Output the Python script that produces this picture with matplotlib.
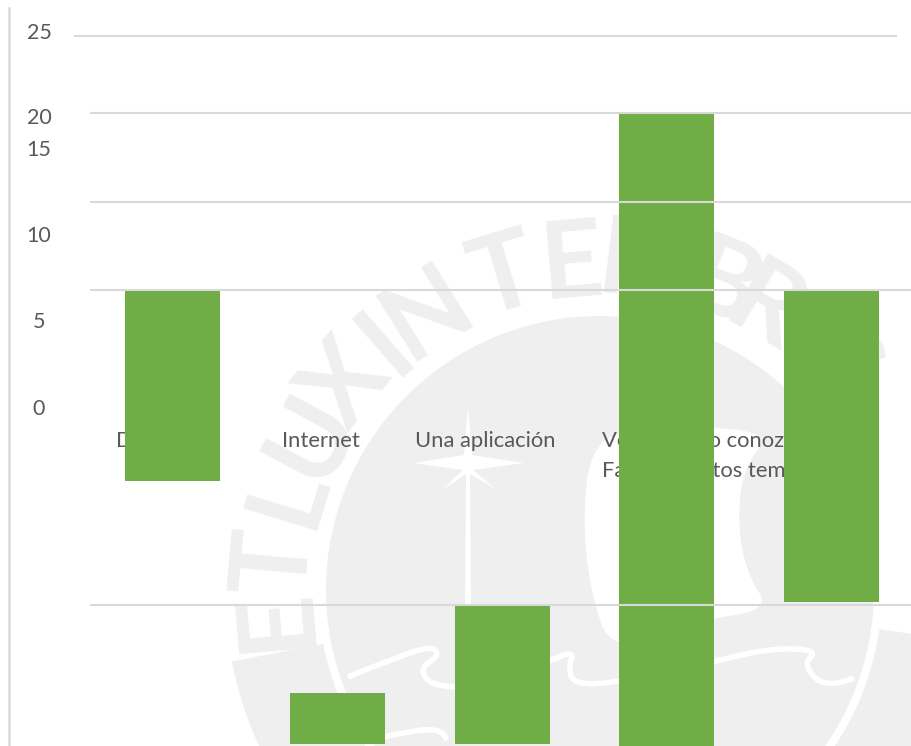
import numpy as np
import matplotlib
matplotlib.use('Agg')
import matplotlib.pyplot as plt
from matplotlib.patches import Circle, Wedge, Polygon

plt.rcParams['font.family'] = ['Lato', 'DejaVu Sans']

# chart values (the rendering is broken so bars float)
bar_tops = [10.0, -12.9, -7.9, 20.05, 10.05]
bar_bottoms = [-0.85, -15.8, -15.8, -15.9, -7.7]
grid_values = [20.05, 15, 10, -7.9]
top_grid_value = 24.45
y_labels = ['25', '20', '15', '10', '5', '0']
y_label_px = [33, 118, 150, 236, 322, 409]
cat_labels = ['Doctores', 'Internet', 'Una aplicación']
cat_label_px = [161, 321, 485]
long_label = 'Veas que no conozco\nFallas en estos temas'

# watermark letters: angle from the top of the seal
seal_letters = list('ETLUXINTENEBRIS')
seal_angles = [-95, -85, -73, -62, -51, -41, -32, -17, -5, 7, 14, 22, 30.5, 39, 47]

W, H = 912, 746
GREEN = '#70ad47'
GRID = '#d9d9d9'
TEXT = '#595959'
MARK = '#efefef'


def smooth(pts, n=3, closed=False):
    # corner cutting, only for the decorative seal outlines
    p = np.array(pts, dtype=float)
    for _ in range(n):
        q = np.roll(p, -1, axis=0) if closed else p[1:]
        a = p if closed else p[:-1]
        p = np.empty((len(a) * 2, 2))
        p[0::2] = 0.75 * a + 0.25 * q
        p[1::2] = 0.25 * a + 0.75 * q
    return p


fig = plt.figure(figsize=(W / 100, H / 100), dpi=100)

#%%
# background in pixel coords: seal watermark and the labels that sit behind the bars
bg = fig.add_axes([0, 0, 1, 1], zorder=0)
bg.set_xlim(0, W)
bg.set_ylim(H, 0)
bg.axis('off')

cx, cy = 600, 590
bg.add_patch(Circle((cx, cy), 274, color=MARK, lw=0))
# matplotlib wedge angles on an inverted y axis run clockwise from +x
bg.add_patch(Wedge((cx, cy), 375, 8, 169, width=93, color=MARK, lw=0))

for ch, ang in zip(seal_letters, seal_angles):
    a = np.radians(ang)
    bg.text(cx + 326 * np.sin(a), cy - 326 * np.cos(a), ch, fontsize=78, fontweight='bold',
            color=MARK, rotation=-ang, rotation_mode='anchor', ha='center', va='center')

# star
bg.add_patch(Polygon([(468, 407), (472, 455), (524, 463), (473, 470), (497, 490), (470, 474),
                      (471, 605), (465, 605), (466, 474), (442, 490), (463, 470), (413, 463),
                      (464, 455)], color='white', lw=0))

# book shape behind the fourth bar
bg.add_patch(Polygon(smooth([(583, 520), (590, 450), (625, 428), (775, 428), (742, 470), (738, 530),
                             (748, 575), (770, 610), (700, 620), (612, 655), (590, 590)],
                            closed=True), color='white', lw=0))

# ribbon curves
rib1 = smooth([(335, 682), (370, 668), (430, 645), (440, 655), (420, 668), (430, 685), (470, 688),
               (540, 665), (575, 650), (568, 668), (575, 685), (620, 682), (700, 665), (770, 648),
               (818, 650), (803, 665), (825, 688), (872, 672)])
rib2 = smooth([(345, 746), (390, 735), (440, 727), (450, 746)])
for rib in (rib1, rib2):
    bg.plot(rib[:, 0], rib[:, 1], color='white', lw=4)

for lab, px in zip(y_labels, y_label_px):
    bg.text(39, px, lab, fontsize=15.5, color=TEXT, ha='center', va='center')
for lab, px in zip(cat_labels, cat_label_px):
    bg.text(px, 441, lab, fontsize=15.8, color=TEXT, ha='center', va='center')
bg.text(602, 456, long_label, fontsize=15.8, color=TEXT, ha='left', va='center', linespacing=1.6)

#%%
# bars and grid
ax = fig.add_axes([90 / W, 0, 1 - 90 / W, 1], zorder=1)
ax.patch.set_alpha(0)
x = np.arange(len(bar_tops))
ax.bar(x, np.array(bar_tops) - np.array(bar_bottoms), bottom=bar_bottoms, width=0.577,
       color=GREEN, zorder=2)
ax.hlines(grid_values, -0.5, 4.49, color=GRID, lw=1.5, zorder=3)
ax.hlines(top_grid_value, -0.6, 4.398, color=GRID, lw=1.5, zorder=3, clip_on=False)
ax.set_xlim(-0.5015, 4.4885)
ax.set_ylim(-15.91, 26.48)
ax.axis('off')

# left axis line
bg.plot([9, 9], [8, 746], color=GRID, lw=1.8)

fig.savefig('out.png', dpi=100)
